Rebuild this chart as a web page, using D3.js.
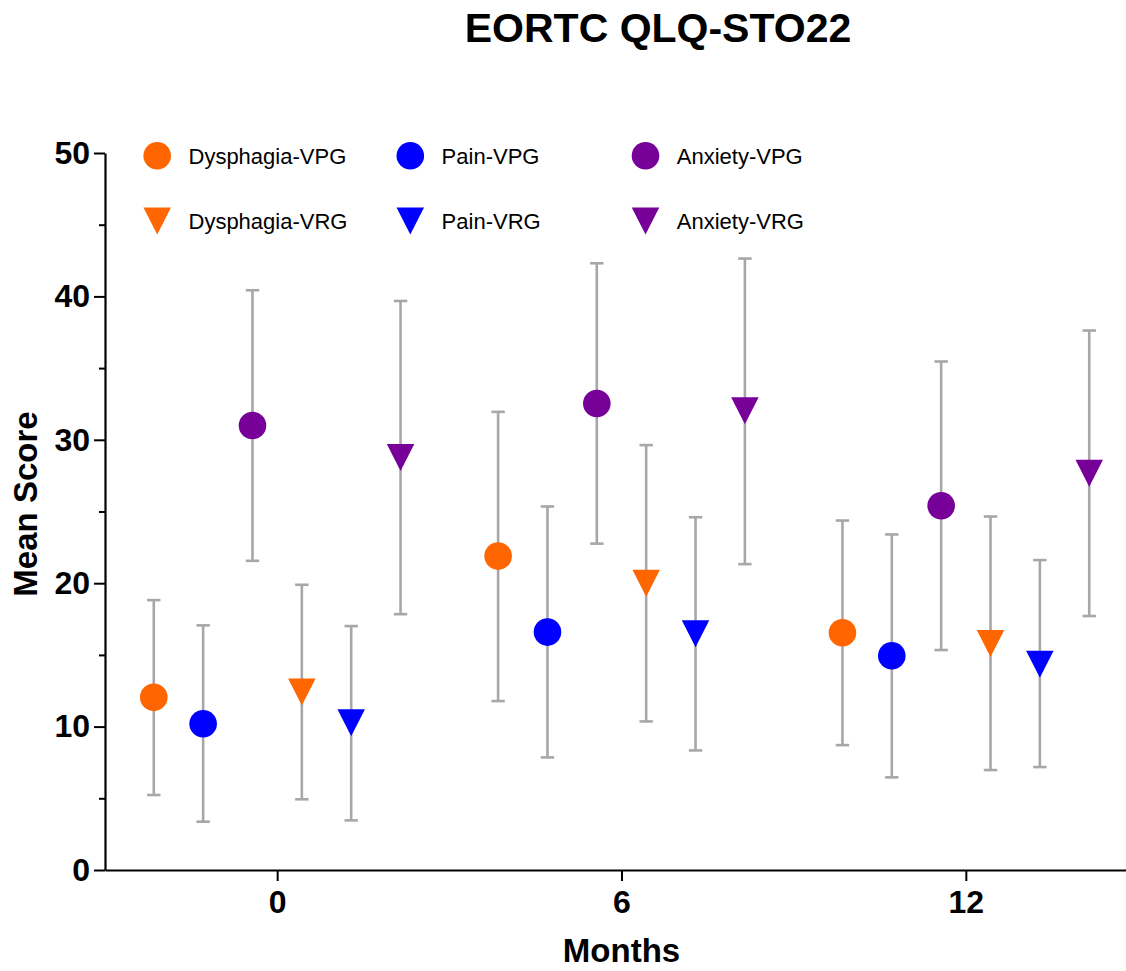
<!DOCTYPE html>
<html>
<head>
<meta charset="utf-8">
<script src="https://cdn.jsdelivr.net/npm/d3@7"></script>
<style>
  html, body { margin: 0; padding: 0; background: #fff; }
  svg { display: block; font-family: "Liberation Sans", Arial, sans-serif; }
</style>
</head>
<body>
<svg id="chart" width="1126" height="971"></svg>
<script>
// ---------------- data ----------------
const months = [0, 6, 12];
const seriesNames = ["Dysphagia-VPG", "Pain-VPG", "Anxiety-VPG", "Dysphagia-VRG", "Pain-VRG", "Anxiety-VRG"];
const seriesColors = ["#FF6600", "#0000FF", "#770099", "#FF6600", "#0000FF", "#770099"];
const seriesShapes = ["circle", "circle", "circle", "triangle", "triangle", "triangle"];

const meanDysphagiaVPG = [12.04, 21.89, 16.54];
const meanPainVPG      = [10.20, 16.59, 14.94];
const meanAnxietyVPG   = [31.00, 32.53, 25.40];
const meanDysphagiaVRG = [12.42, 19.99, 15.80];
const meanPainVRG      = [10.27, 16.47, 14.35];
const meanAnxietyVRG   = [28.77, 32.02, 27.67];

const upperDysphagiaVPG = [18.82, 31.95, 24.37];
const upperPainVPG      = [17.06, 25.35, 23.40];
const upperAnxietyVPG   = [40.43, 42.31, 35.46];
const upperDysphagiaVRG = [19.89, 29.63, 24.65];
const upperPainVRG      = [17.01, 24.60, 21.61];
const upperAnxietyVRG   = [39.68, 42.64, 37.62];

const lowerDysphagiaVPG = [5.23, 11.78, 8.71];
const lowerPainVPG      = [3.37, 7.85, 6.46];
const lowerAnxietyVPG   = [21.56, 22.76, 15.34];
const lowerDysphagiaVRG = [4.93, 10.36, 6.97];
const lowerPainVRG      = [3.46, 8.34, 7.18];
const lowerAnxietyVRG   = [17.84, 21.33, 17.71];

const yMajorTicks = [0, 10, 20, 30, 40, 50];
const yMinorTicks = [5, 15, 25, 35, 45];
const xTicks = [0, 6, 12];

const titleText = "EORTC QLQ-STO22";
const xTitle = "Months";
const yTitle = "Mean Score";

const means = [meanDysphagiaVPG, meanPainVPG, meanAnxietyVPG, meanDysphagiaVRG, meanPainVRG, meanAnxietyVRG];
const uppers = [upperDysphagiaVPG, upperPainVPG, upperAnxietyVPG, upperDysphagiaVRG, upperPainVRG, upperAnxietyVRG];
const lowers = [lowerDysphagiaVPG, lowerPainVPG, lowerAnxietyVPG, lowerDysphagiaVRG, lowerPainVRG, lowerAnxietyVRG];

// ---------------- layout ----------------
const svg = d3.select("#chart");
const x = d3.scaleLinear().domain([-3, 15]).range([105, 1138]);
const y = d3.scaleLinear().domain([0, 50]).range([870, 153]);
const groupSpacing = 0.86; // months between neighbouring series in a group
const errColor = "#A7A7AB";
const capHalf = 6.7;
const circleR = 13.8;
const triW = 27.5, triH = 27;
const trianglePath = `M${-triW/2},${-triH/2}L${triW/2},${-triH/2}L0,${triH/2}Z`;

const points = [];
seriesNames.forEach((name, si) => {
  months.forEach((m, mi) => {
    points.push({
      si, name,
      xv: m + (si - 2.5) * groupSpacing,
      mean: means[si][mi], lo: lowers[si][mi], hi: uppers[si][mi],
      color: seriesColors[si], shape: seriesShapes[si]
    });
  });
});

// title
svg.append("text")
  .attr("x", 658).attr("y", 42)
  .attr("text-anchor", "middle")
  .attr("font-size", 41).attr("font-weight", "bold")
  .text(titleText);

// y axis
const yAxis = svg.append("g").attr("transform", `translate(${x(-3)},0)`)
  .call(d3.axisLeft(y).tickValues(yMajorTicks).tickSize(11).tickSizeOuter(0).tickPadding(4).tickFormat(d3.format("d")));
yAxis.selectAll("text").attr("font-size", 32).attr("font-weight", "bold").attr("fill", "#000")
  .style("font-family", '"Liberation Sans", Arial, sans-serif');
yAxis.selectAll("line").attr("stroke", "#000").attr("stroke-width", 2);
yAxis.select(".domain").attr("stroke", "#000").attr("stroke-width", 2.2);

const yMinor = svg.append("g").attr("transform", `translate(${x(-3)},0)`)
  .call(d3.axisLeft(y).tickValues(yMinorTicks).tickSize(6).tickSizeOuter(0).tickFormat(""));
yMinor.select(".domain").remove();
yMinor.selectAll("line").attr("stroke", "#000").attr("stroke-width", 2);

// x axis
const xAxis = svg.append("g").attr("transform", `translate(0,${y(0)})`)
  .call(d3.axisBottom(x).tickValues(xTicks).tickSize(11).tickSizeOuter(0).tickPadding(9).tickFormat(d3.format("d")));
xAxis.selectAll("text").attr("font-size", 32).attr("font-weight", "bold").attr("fill", "#000")
  .style("font-family", '"Liberation Sans", Arial, sans-serif');
xAxis.selectAll("line").attr("stroke", "#000").attr("stroke-width", 2);
xAxis.select(".domain").attr("stroke", "#000").attr("stroke-width", 2.2);

// axis titles
svg.append("text")
  .attr("x", (x.range()[0] + x.range()[1]) / 2).attr("y", 962)
  .attr("text-anchor", "middle")
  .attr("font-size", 33).attr("font-weight", "bold")
  .text(xTitle);

svg.append("text")
  .attr("transform", `translate(37,504) rotate(-90)`)
  .attr("text-anchor", "middle")
  .attr("font-size", 33).attr("font-weight", "bold")
  .text(yTitle);

// error bars
const eb = svg.append("g").attr("stroke", errColor).attr("stroke-width", 2.6).attr("fill", "none");
eb.selectAll("line.v").data(points).join("line").attr("class", "v")
  .attr("x1", d => x(d.xv)).attr("x2", d => x(d.xv))
  .attr("y1", d => y(d.lo)).attr("y2", d => y(d.hi));
eb.selectAll("line.capHi").data(points).join("line").attr("class", "capHi")
  .attr("x1", d => x(d.xv) - capHalf).attr("x2", d => x(d.xv) + capHalf)
  .attr("y1", d => y(d.hi)).attr("y2", d => y(d.hi));
eb.selectAll("line.capLo").data(points).join("line").attr("class", "capLo")
  .attr("x1", d => x(d.xv) - capHalf).attr("x2", d => x(d.xv) + capHalf)
  .attr("y1", d => y(d.lo)).attr("y2", d => y(d.lo));

// markers
const mk = svg.append("g");
mk.selectAll("circle").data(points.filter(d => d.shape === "circle")).join("circle")
  .attr("cx", d => x(d.xv)).attr("cy", d => y(d.mean)).attr("r", circleR)
  .attr("fill", d => d.color);
mk.selectAll("path").data(points.filter(d => d.shape === "triangle")).join("path")
  .attr("d", trianglePath)
  .attr("transform", d => `translate(${x(d.xv)},${y(d.mean)})`)
  .attr("fill", d => d.color);

// legend
const legendCols = [157.2, 410.3, 645.5];
const legendRows = [155.8, 221];
const legend = svg.append("g");
seriesNames.forEach((name, si) => {
  const col = si % 3, row = Math.floor(si / 3);
  const lx = legendCols[col], ly = legendRows[row];
  if (seriesShapes[si] === "circle") {
    legend.append("circle").attr("cx", lx).attr("cy", ly).attr("r", circleR).attr("fill", seriesColors[si]);
  } else {
    legend.append("path").attr("d", trianglePath).attr("transform", `translate(${lx},${ly})`).attr("fill", seriesColors[si]);
  }
  legend.append("text").attr("x", lx + 31.3).attr("y", ly + 7.8)
    .attr("font-size", 22).attr("fill", "#000").text(name);
});
</script>
</body>
</html>
